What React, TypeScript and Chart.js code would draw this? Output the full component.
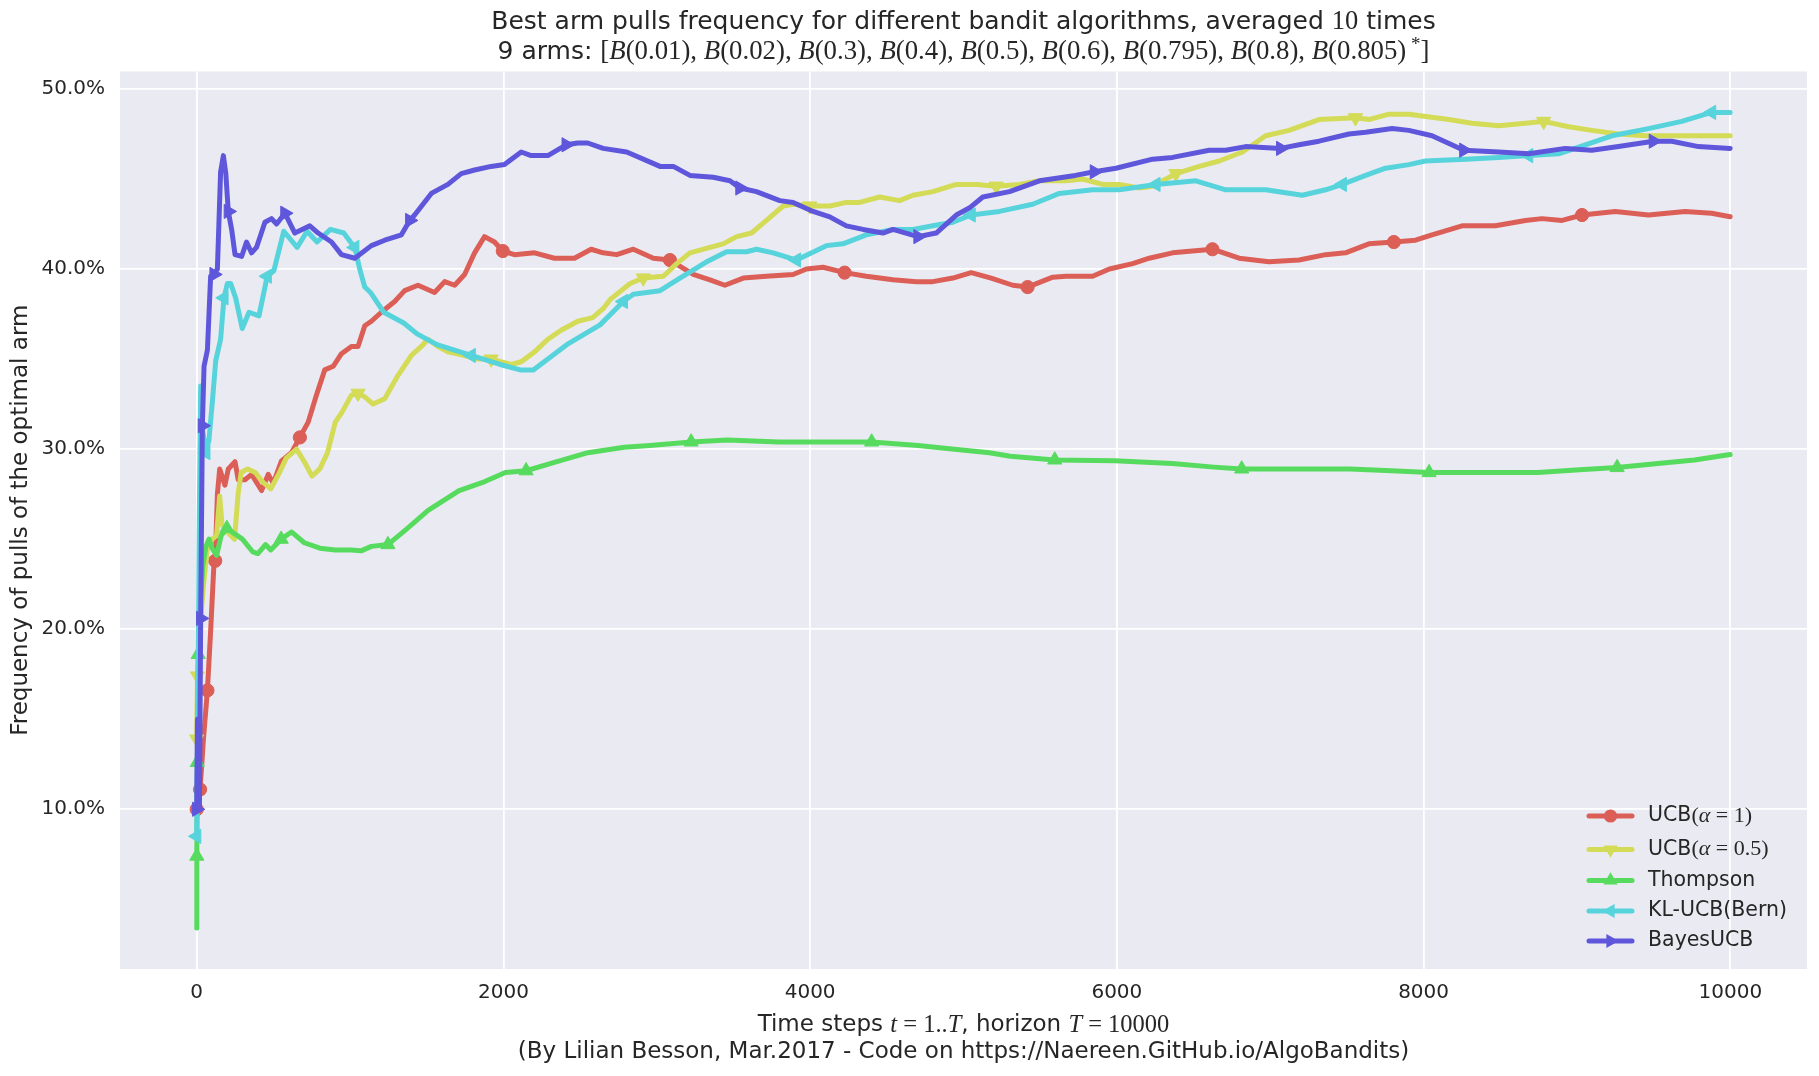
import { useEffect, useRef } from 'react';
import { Chart, registerables } from 'chart.js';

Chart.register(...registerables);

const SANS = '"DejaVu Sans", sans-serif';
const MATH = '"Liberation Serif", serif';
const TEXT = '#262626';

// ---- data (time step t, frequency of best-arm pulls in %) ----
const armMeans = [0.01, 0.02, 0.3, 0.4, 0.5, 0.6, 0.795, 0.8, 0.805];
const horizon = 10000;
const repetitions = 10;

const xTicks = [0, 2000, 4000, 6000, 8000, 10000];
const yTicks = [10, 20, 30, 40, 50];

const ucb1X = [0, 22, 45, 70, 91, 113, 121, 135, 150, 184, 206, 250, 271, 315, 358, 423, 467, 499, 553, 618, 673, 727, 781, 835, 890, 944, 1009, 1052, 1096, 1139, 1204, 1291, 1356, 1443, 1551, 1617, 1682, 1747, 1812, 1877, 1942, 1996, 2072, 2203, 2333, 2463, 2572, 2650, 2739, 2847, 2978, 3086, 3238, 3347, 3444, 3564, 3715, 3889, 3976, 4084, 4225, 4366, 4540, 4692, 4800, 4931, 5050, 5180, 5321, 5418, 5582, 5668, 5842, 5951, 6103, 6211, 6363, 6623, 6797, 6992, 7188, 7361, 7491, 7643, 7806, 7947, 8055, 8251, 8468, 8664, 8772, 8903, 9033, 9250, 9466, 9705, 9878, 9999];
const ucb1Y = [10.0, 11.1, 14.0, 16.6, 19.9, 23.7, 23.8, 27.5, 28.9, 28.0, 28.9, 29.3, 28.3, 28.3, 28.6, 27.7, 28.6, 28.1, 29.35, 29.8, 30.65, 31.5, 33.0, 34.4, 34.6, 35.3, 35.7, 35.7, 36.85, 37.1, 37.6, 38.2, 38.8, 39.1, 38.7, 39.3, 39.1, 39.7, 40.9, 41.8, 41.5, 41.0, 40.8, 40.9, 40.6, 40.6, 41.1, 40.9, 40.8, 41.1, 40.6, 40.5, 39.7, 39.4, 39.1, 39.5, 39.6, 39.7, 40.0, 40.1, 39.8, 39.6, 39.4, 39.3, 39.3, 39.5, 39.8, 39.5, 39.1, 39.0, 39.55, 39.6, 39.6, 40.0, 40.3, 40.6, 40.9, 41.1, 40.6, 40.4, 40.5, 40.8, 40.9, 41.4, 41.5, 41.6, 41.9, 42.4, 42.4, 42.7, 42.8, 42.7, 43.0, 43.2, 43.0, 43.2, 43.1, 42.9];
const ucb1Marks = [0, 22, 70, 121, 673, 1996, 3086, 4225, 5418, 6623, 7806, 9033];

const ucb05X = [0, 5, 20, 45, 70, 100, 130, 150, 165, 200, 247, 270, 290, 332, 382, 433, 483, 534, 584, 651, 702, 752, 803, 853, 904, 944, 1009, 1052, 1096, 1150, 1226, 1313, 1400, 1465, 1508, 1573, 1638, 1747, 1834, 1920, 2051, 2116, 2203, 2290, 2376, 2485, 2582, 2650, 2695, 2826, 2912, 3043, 3130, 3216, 3347, 3433, 3520, 3618, 3715, 3824, 3889, 3997, 4128, 4236, 4323, 4453, 4583, 4670, 4800, 4953, 5083, 5213, 5364, 5495, 5668, 5777, 5907, 6016, 6146, 6233, 6385, 6537, 6667, 6819, 6970, 7122, 7318, 7556, 7643, 7773, 7904, 8164, 8316, 8490, 8664, 8783, 8946, 9097, 9271, 9445, 9596, 9792, 9999];
const ucb05Y = [13.9, 17.4, 20.0, 22.5, 24.5, 25.0, 25.2, 27.4, 25.8, 25.4, 25.0, 27.5, 28.7, 28.9, 28.7, 28.15, 27.8, 28.6, 29.5, 30.0, 29.3, 28.5, 28.9, 29.8, 31.5, 32.0, 33.0, 33.1, 32.9, 32.5, 32.8, 34.1, 35.2, 35.7, 36.1, 35.7, 35.4, 35.2, 35.0, 35.0, 34.7, 34.85, 35.4, 36.1, 36.6, 37.1, 37.3, 37.8, 38.3, 39.2, 39.5, 39.6, 40.3, 40.9, 41.2, 41.4, 41.8, 42.0, 42.7, 43.5, 43.6, 43.5, 43.5, 43.7, 43.7, 44.0, 43.8, 44.1, 44.3, 44.7, 44.7, 44.6, 44.7, 44.9, 44.9, 45.0, 44.7, 44.7, 44.5, 44.6, 45.3, 45.7, 46.0, 46.5, 47.4, 47.7, 48.3, 48.4, 48.3, 48.6, 48.6, 48.3, 48.1, 47.96, 48.1, 48.2, 47.9, 47.7, 47.5, 47.4, 47.4, 47.4, 47.4];
const ucb05Marks = [0, 5, 1052, 1920, 2912, 3997, 5213, 6385, 7556, 8783];

const thompsonX = [0, 1, 4, 10, 20, 40, 60, 80, 100, 130, 160, 197, 230, 265, 298, 365, 399, 449, 483, 551, 618, 702, 803, 904, 1005, 1072, 1139, 1247, 1374, 1509, 1711, 1879, 2013, 2148, 2349, 2551, 2787, 2955, 3224, 3460, 3796, 4132, 4401, 4704, 4973, 5169, 5305, 5595, 5986, 6361, 6633, 6814, 7212, 7519, 7791, 8036, 8404, 8745, 9017, 9262, 9528, 9766, 9999];
const thompsonY = [3.4, 7.4, 12.6, 18.6, 21.0, 23.5, 24.6, 25.0, 24.5, 24.1, 25.2, 25.6, 25.4, 25.2, 25.0, 24.3, 24.2, 24.7, 24.4, 25.0, 25.4, 24.8, 24.5, 24.4, 24.4, 24.35, 24.6, 24.7, 25.6, 26.6, 27.7, 28.2, 28.7, 28.8, 29.3, 29.8, 30.1, 30.2, 30.4, 30.5, 30.4, 30.4, 30.4, 30.2, 29.96, 29.8, 29.6, 29.4, 29.35, 29.2, 29.0, 28.9, 28.9, 28.9, 28.8, 28.7, 28.7, 28.7, 28.85, 28.98, 29.2, 29.4, 29.7];
const thompsonMarks = [1, 4, 10, 197, 551, 1247, 2148, 3224, 4401, 5595, 6814, 8036, 9262];

const klucbX = [0, 8, 18, 26, 40, 60, 80, 102, 124, 156, 178, 200, 221, 254, 297, 341, 406, 460, 503, 568, 655, 720, 785, 872, 959, 1003, 1031, 1063, 1096, 1133, 1220, 1350, 1437, 1567, 1790, 1979, 2109, 2195, 2413, 2630, 2782, 2847, 3021, 3151, 3325, 3455, 3585, 3650, 3759, 3911, 4106, 4214, 4366, 4540, 4670, 4800, 4931, 5050, 5234, 5451, 5625, 5842, 6016, 6255, 6515, 6710, 6970, 7209, 7361, 7470, 7622, 7752, 7904, 8012, 8273, 8490, 8685, 8881, 9054, 9228, 9466, 9683, 9878, 9999];
const klucbY = [8.5, 15.0, 27.0, 33.5, 31.0, 29.8, 30.5, 32.6, 34.9, 36.1, 38.4, 39.2, 39.2, 38.4, 36.7, 37.6, 37.4, 39.6, 39.9, 42.1, 41.2, 42.1, 41.5, 42.2, 42.0, 41.5, 41.2, 40.0, 39.0, 38.7, 37.6, 37.0, 36.4, 35.8, 35.2, 34.7, 34.4, 34.4, 35.8, 36.9, 38.2, 38.6, 38.8, 39.5, 40.4, 40.96, 40.96, 41.1, 40.9, 40.5, 41.3, 41.4, 41.9, 42.2, 42.2, 42.4, 42.6, 43.0, 43.2, 43.6, 44.2, 44.4, 44.4, 44.7, 44.9, 44.4, 44.4, 44.1, 44.4, 44.7, 45.2, 45.6, 45.8, 46.0, 46.1, 46.2, 46.3, 46.4, 46.9, 47.4, 47.8, 48.2, 48.7, 48.7];
const klucbMarks = [0, 60, 178, 460, 1031, 1790, 2782, 3911, 5050, 6255, 7470, 8685, 9878];

const bayesX = [0, 5, 12, 18, 26, 37, 48, 70, 91, 113, 135, 156, 174, 190, 206, 228, 250, 293, 325, 358, 390, 445, 488, 521, 575, 640, 738, 792, 879, 944, 1031, 1139, 1226, 1335, 1389, 1421, 1530, 1638, 1725, 1812, 1920, 2007, 2116, 2181, 2290, 2409, 2485, 2550, 2650, 2804, 3021, 3108, 3216, 3368, 3477, 3542, 3650, 3802, 3889, 4019, 4128, 4236, 4345, 4475, 4540, 4703, 4822, 4953, 5040, 5126, 5300, 5495, 5729, 5853, 5994, 6233, 6363, 6602, 6710, 6840, 7068, 7188, 7318, 7513, 7622, 7795, 7904, 8055, 8262, 8490, 8685, 8924, 9097, 9271, 9498, 9618, 9792, 9999];
const bayesY = [10.0, 15.0, 13.0, 10.2, 20.6, 31.3, 34.6, 35.5, 39.6, 39.7, 40.0, 45.4, 46.3, 45.3, 43.2, 42.2, 40.8, 40.7, 41.5, 40.9, 41.2, 42.6, 42.8, 42.5, 43.1, 42.0, 42.4, 42.0, 41.5, 40.8, 40.6, 41.3, 41.6, 41.9, 42.7, 43.0, 44.2, 44.7, 45.3, 45.5, 45.7, 45.8, 46.5, 46.3, 46.3, 46.9, 47.0, 47.0, 46.7, 46.5, 45.7, 45.7, 45.2, 45.1, 44.9, 44.5, 44.3, 43.8, 43.7, 43.2, 42.9, 42.4, 42.2, 42.0, 42.2, 41.8, 42.0, 43.0, 43.4, 44.0, 44.3, 44.9, 45.2, 45.4, 45.6, 46.1, 46.2, 46.6, 46.6, 46.8, 46.7, 46.9, 47.1, 47.5, 47.6, 47.8, 47.7, 47.4, 46.6, 46.5, 46.4, 46.7, 46.6, 46.8, 47.1, 47.1, 46.8, 46.7];
const bayesMarks = [0, 26, 37, 113, 206, 575, 1389, 2409, 3542, 4703, 5853, 7068, 8262, 9498];

// ---- styling ----
const X_MIN = -500;
const X_MAX = 10500;
const Y_MIN = 1.13;
const Y_MAX = 50.97;
const PLOT_BG = '#EAEAF2';
const LINE_W = 5;

const sans = (s: number) => `${s}px ${SANS}`;
const math = (s: number) => `${s}px ${MATH}`;
const mathIt = (s: number) => `italic ${s}px ${MATH}`;

type Seg = { t: string; f: string; dy?: number };

interface Series {
  label: string;
  rich: Seg[];
  xs: number[];
  ys: number[];
  marks: number[];
  color: string;
  style: 'circle' | 'triangle';
  rotation: number;
  radius: number;
}

const LF = 20.5;
const LM = 22;
const series: Series[] = [
  {
    label: 'UCB(α = 1)',
    rich: [{ t: 'UCB', f: sans(LF) }, { t: '(', f: math(LM) }, { t: 'α', f: mathIt(LM) }, { t: ' = 1)', f: math(LM) }],
    xs: ucb1X, ys: ucb1Y, marks: ucb1Marks, color: '#db5f57', style: 'circle', rotation: 0, radius: 6.6,
  },
  {
    label: 'UCB(α = 0.5)',
    rich: [{ t: 'UCB', f: sans(LF) }, { t: '(', f: math(LM) }, { t: 'α', f: mathIt(LM) }, { t: ' = 0.5)', f: math(LM) }],
    xs: ucb05X, ys: ucb05Y, marks: ucb05Marks, color: '#d3db57', style: 'triangle', rotation: 180, radius: 8.2,
  },
  {
    label: 'Thompson',
    rich: [{ t: 'Thompson', f: sans(LF) }],
    xs: thompsonX, ys: thompsonY, marks: thompsonMarks, color: '#57db5f', style: 'triangle', rotation: 0, radius: 8.2,
  },
  {
    label: 'KL-UCB(Bern)',
    rich: [{ t: 'KL-UCB(Bern)', f: sans(LF) }],
    xs: klucbX, ys: klucbY, marks: klucbMarks, color: '#57d3db', style: 'triangle', rotation: 270, radius: 8.2,
  },
  {
    label: 'BayesUCB',
    rich: [{ t: 'BayesUCB', f: sans(LF) }],
    xs: bayesX, ys: bayesY, marks: bayesMarks, color: '#5f57db', style: 'triangle', rotation: 90, radius: 8.2,
  },
];

function drawRich(ctx: CanvasRenderingContext2D, segs: Seg[], x: number, y: number, align: 'left' | 'center') {
  const widths = segs.map((s) => {
    ctx.font = s.f;
    return ctx.measureText(s.t).width;
  });
  const total = widths.reduce((a, b) => a + b, 0);
  let cx = align === 'center' ? x - total / 2 : x;
  ctx.textAlign = 'left';
  ctx.textBaseline = 'middle';
  ctx.fillStyle = TEXT;
  segs.forEach((s, i) => {
    ctx.font = s.f;
    ctx.fillText(s.t, cx, y + (s.dy || 0));
    cx += widths[i];
  });
}

function drawMarker(ctx: CanvasRenderingContext2D, s: Series, x: number, y: number) {
  ctx.beginPath();
  if (s.style === 'circle') {
    ctx.arc(x, y, s.radius, 0, Math.PI * 2);
  } else {
    let rad = (s.rotation * Math.PI) / 180;
    for (let k = 0; k < 3; k++) {
      const px = x + Math.sin(rad) * s.radius;
      const py = y - Math.cos(rad) * s.radius;
      if (k === 0) ctx.moveTo(px, py);
      else ctx.lineTo(px, py);
      rad += (2 * Math.PI) / 3;
    }
  }
  ctx.closePath();
  ctx.fillStyle = s.color;
  ctx.fill();
}

const titleLine1: Seg[] = [
  { t: 'Best arm pulls frequency for different bandit algorithms, averaged ', f: sans(25) },
  { t: String(repetitions), f: math(26.5) },
  { t: ' times', f: sans(25) },
];

function titleLine2(): Seg[] {
  const M = 26.8;
  const segs: Seg[] = [{ t: `${armMeans.length} arms: `, f: sans(25) }, { t: '[', f: math(M) }];
  const best = Math.max(...armMeans);
  armMeans.forEach((m, i) => {
    segs.push({ t: 'B', f: mathIt(M) });
    segs.push({ t: `(${m})`, f: math(M) });
    if (m === best) segs.push({ t: ' *', f: math(19), dy: -7 });
    if (i < armMeans.length - 1) segs.push({ t: ', ', f: math(M) });
  });
  segs.push({ t: ']', f: math(M) });
  return segs;
}

const xLabel1: Seg[] = [
  { t: 'Time steps ', f: sans(23) },
  { t: 't', f: mathIt(24.5) },
  { t: ' = 1..', f: math(24.5) },
  { t: 'T', f: mathIt(24.5) },
  { t: ', horizon ', f: sans(23) },
  { t: 'T', f: mathIt(24.5) },
  { t: ` = ${horizon}`, f: math(24.5) },
];
const xLabel2 = '(By Lilian Besson, Mar.2017 - Code on https://Naereen.GitHub.io/AlgoBandits)';
const yLabel = 'Frequency of pulls of the optimal arm';

const legendRowsY = [816, 849.5, 880.5, 911, 941];

const bgPlugin = {
  id: 'bgPlugin',
  beforeDraw(chart: any) {
    const { ctx, chartArea } = chart;
    ctx.save();
    ctx.fillStyle = '#ffffff';
    ctx.fillRect(0, 0, chart.width, chart.height);
    ctx.fillStyle = PLOT_BG;
    ctx.fillRect(chartArea.left, chartArea.top, chartArea.right - chartArea.left, chartArea.bottom - chartArea.top);
    ctx.restore();
  },
};

const textPlugin = {
  id: 'textPlugin',
  afterDraw(chart: any) {
    const { ctx, chartArea } = chart;
    const cx = (chartArea.left + chartArea.right) / 2;
    ctx.save();
    drawRich(ctx, titleLine1, cx, 22, 'center');
    drawRich(ctx, titleLine2(), cx, 52, 'center');
    drawRich(ctx, xLabel1, cx, 1025.5, 'center');
    drawRich(ctx, [{ t: xLabel2, f: sans(23) }], cx, 1052.5, 'center');
    // legend
    series.forEach((s, i) => {
      const y = legendRowsY[i];
      ctx.strokeStyle = s.color;
      ctx.lineWidth = LINE_W;
      ctx.lineCap = 'round';
      ctx.beginPath();
      ctx.moveTo(1589, y);
      ctx.lineTo(1632, y);
      ctx.stroke();
      drawMarker(ctx, s, 1610.5, y);
      drawRich(ctx, s.rich, 1648, y, 'left');
    });
    ctx.restore();
  },
};

export default function App() {
  const ref = useRef<HTMLCanvasElement>(null);
  useEffect(() => {
    document.body.style.margin = '0';
    const datasets = series.map((s, i) => {
      const markSet = new Set(s.marks);
      return {
        label: s.label,
        data: s.xs.map((x, k) => ({ x, y: s.ys[k] })),
        borderColor: s.color,
        backgroundColor: s.color,
        borderWidth: LINE_W,
        borderCapStyle: 'round',
        borderJoinStyle: 'round',
        tension: 0,
        fill: false,
        order: series.length - i,
        pointStyle: s.style,
        rotation: s.rotation,
        pointBackgroundColor: s.color,
        pointBorderColor: s.color,
        pointBorderWidth: 1,
        pointRadius: (c: any) => (c.dataIndex !== undefined && markSet.has(s.xs[c.dataIndex]) ? s.radius : 0),
        pointHoverRadius: 0,
      };
    });
    const gridOpts = { color: '#ffffff', lineWidth: 1.8, drawTicks: false };
    const chart = new Chart(ref.current as HTMLCanvasElement, {
      type: 'line',
      data: { datasets } as any,
      options: {
        responsive: false,
        animation: false,
        devicePixelRatio: 1,
        events: [],
        layout: { padding: { top: 71.5, right: 12, left: 0, bottom: 0 } },
        plugins: { legend: { display: false }, title: { display: false }, tooltip: { enabled: false } },
        scales: {
          x: {
            type: 'linear',
            min: X_MIN,
            max: X_MAX,
            afterBuildTicks: (s: any) => {
              s.ticks = xTicks.map((v) => ({ value: v }));
            },
            afterFit: (s: any) => {
              s.height = 107;
            },
            grid: gridOpts,
            border: { display: false },
            ticks: {
              font: { family: SANS, size: 20 },
              color: TEXT,
              padding: 12,
              maxRotation: 0,
              autoSkip: false,
              callback: (v: any) => String(v),
            },
          },
          y: {
            type: 'linear',
            min: Y_MIN,
            max: Y_MAX,
            afterBuildTicks: (s: any) => {
              s.ticks = yTicks.map((v) => ({ value: v }));
            },
            afterFit: (s: any) => {
              s.width = 120;
            },
            grid: gridOpts,
            border: { display: false },
            ticks: {
              font: { family: SANS, size: 20 },
              color: TEXT,
              padding: 15,
              autoSkip: false,
              callback: (v: any) => `${Number(v).toFixed(1)}%`,
            },
            title: {
              display: true,
              text: yLabel,
              font: { family: SANS, size: 23 },
              color: TEXT,
              padding: { top: 7, bottom: 0 },
            },
          },
        },
      } as any,
      plugins: [bgPlugin, textPlugin],
    });
    return () => chart.destroy();
  }, []);
  return (
    <div style={{ width: 1819, height: 1076 }}>
      <canvas ref={ref} width={1819} height={1076} style={{ display: 'block' }} />
    </div>
  );
}
